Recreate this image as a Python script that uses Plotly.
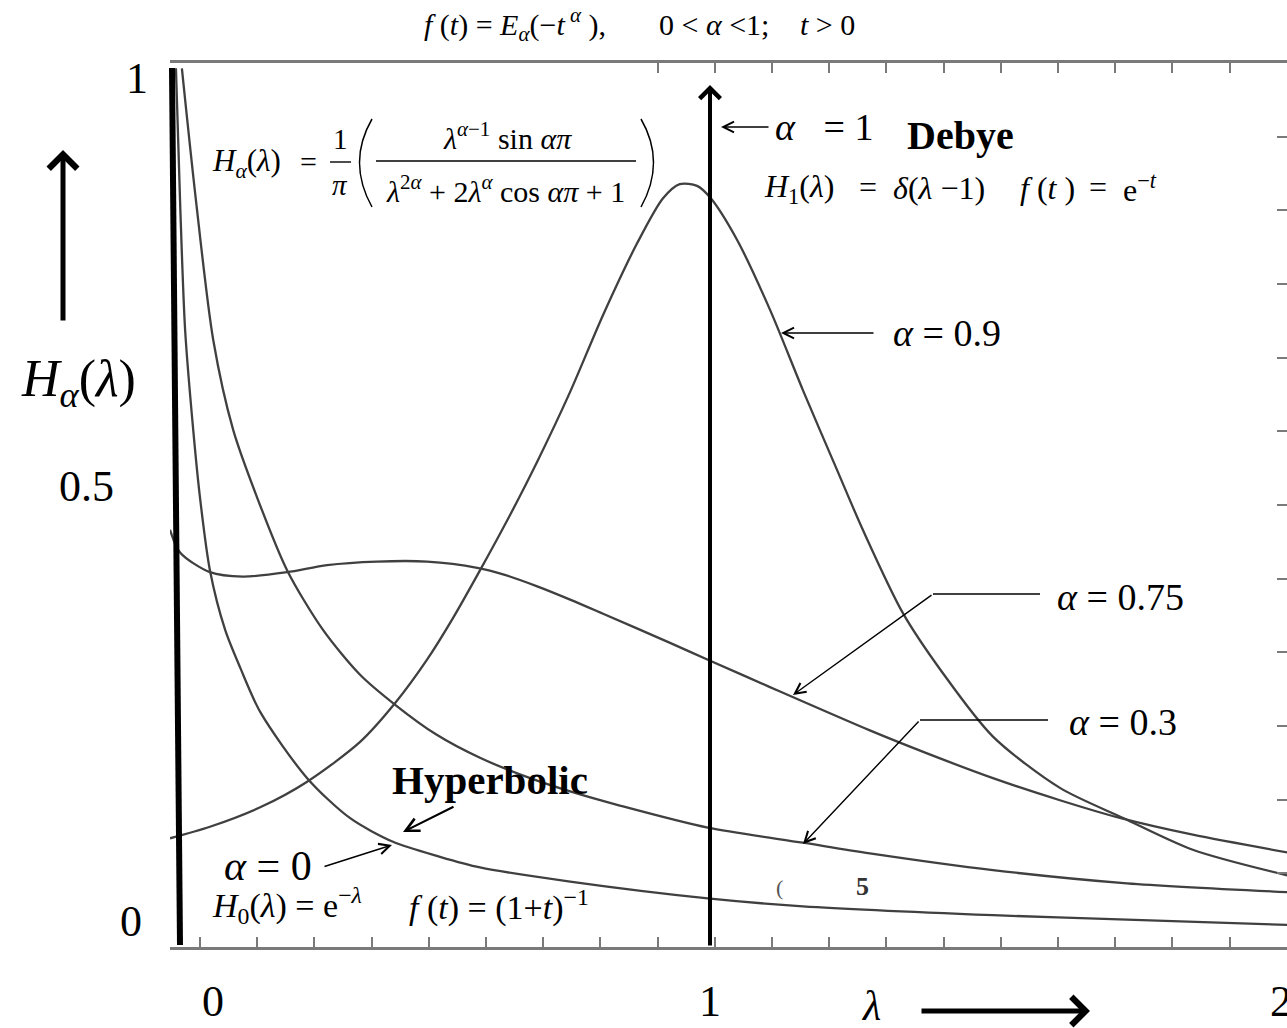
import plotly.graph_objects as go

# Spectral functions H_alpha(lambda) of the Mittag-Leffler relaxation f(t) = E_alpha(-t^alpha)
lam_a0 = [0.011, 0.019, 0.028, 0.043, 0.056, 0.074, 0.102, 0.130, 0.167, 0.254, 0.333, 0.413,
          0.500, 0.574, 0.741, 0.996, 1.172, 1.524, 1.772, 2.069]
h_a0 = [0.994, 0.837, 0.698, 0.585, 0.506, 0.426, 0.359, 0.316, 0.266, 0.191, 0.146, 0.119,
        0.102, 0.090, 0.074, 0.055, 0.046, 0.036, 0.031, 0.025]

lam_a03 = [0.022, 0.048, 0.080, 0.117, 0.161, 0.217, 0.283, 0.352, 0.417, 0.494, 0.574, 0.667,
           0.741, 0.833, 0.996, 1.172, 1.296, 1.524, 1.772, 2.069]
h_a03 = [0.994, 0.845, 0.687, 0.585, 0.509, 0.426, 0.359, 0.308, 0.274, 0.240, 0.214, 0.191,
         0.176, 0.160, 0.135, 0.118, 0.106, 0.087, 0.072, 0.062]

lam_a075 = [0.000, 0.019, 0.074, 0.135, 0.217, 0.291, 0.383, 0.476, 0.569, 0.620, 0.680, 0.741,
            0.802, 0.926, 0.996, 1.111, 1.296, 1.402, 1.524, 1.648, 1.759, 1.894, 2.069]
h_a075 = [0.472, 0.446, 0.424, 0.419, 0.424, 0.432, 0.436, 0.436, 0.429, 0.421, 0.408, 0.393,
          0.377, 0.344, 0.325, 0.294, 0.245, 0.219, 0.191, 0.166, 0.146, 0.127, 0.107]

lam_a09 = [0.000, 0.074, 0.167, 0.254, 0.352, 0.417, 0.476, 0.524, 0.574, 0.630, 0.680, 0.741,
           0.802, 0.865, 0.913, 0.944, 0.976, 1.000, 1.050, 1.111, 1.172, 1.235, 1.283, 1.357,
           1.431, 1.524, 1.648, 1.765, 1.894, 2.069]
h_a09 = [0.123, 0.136, 0.158, 0.187, 0.232, 0.276, 0.325, 0.372, 0.426, 0.489, 0.549, 0.628,
         0.715, 0.796, 0.847, 0.863, 0.861, 0.848, 0.800, 0.721, 0.630, 0.540, 0.472, 0.378,
         0.310, 0.238, 0.180, 0.146, 0.110, 0.081]

# Debye limit (alpha = 1): delta peak at lambda = 1
DEBYE_LAMBDA = 1.0

# hand-set axis labels
y_label_text = ["0", "0.5", "1"]
x_label_text = ["0", "1", "2"]

# ---- page geometry (pixels) ----
W, H = 1287, 1028
LEFT, TOP, BOTTOM = 170, 63, 947
PX_PER_LAM = 540.0
PLOT_W = W - LEFT
PLOT_H = float(BOTTOM - TOP)
X_MAX = PLOT_W / PX_PER_LAM

FRAME = "#7a7a7a"
CURVE = "#404040"
SERIF = "Liberation Serif"
NB = "\u00a0"


def px_x(px):
    return (px - LEFT) / PX_PER_LAM


def px_y(py):
    return (BOTTOM - py) / PLOT_H


def paper_x(px):
    return (px - LEFT) / PLOT_W


def paper_y(py):
    return (BOTTOM - py) / PLOT_H


fig = go.Figure()
for lam, h in [(lam_a0, h_a0), (lam_a03, h_a03), (lam_a075, h_a075), (lam_a09, h_a09)]:
    fig.add_trace(go.Scatter(x=lam, y=h, mode="lines",
                             line=dict(color=CURVE, width=2.3, shape="spline", smoothing=0.8),
                             hoverinfo="skip", showlegend=False))
# carrier for the top / right frame axes
fig.add_trace(go.Scatter(x=[None], y=[None], xaxis="x2", yaxis="y2",
                         hoverinfo="skip", showlegend=False))

tick0 = px_x(200)
dtick = 57.2 / PX_PER_LAM
top_ticks = [tick0 + k * dtick for k in range(8, 19)]
right_ticks = [k / 12 for k in range(1, 12)]

ann = []


def text(px, py, s, size, anchor="left", color="black"):
    ann.append(dict(x=paper_x(px), y=paper_y(py), xref="paper", yref="paper", text=s,
                    showarrow=False, xanchor=anchor, yanchor="middle",
                    font=dict(family=SERIF, size=size, color=color)))


def arrow(tip, tail, width=1.4, head=5, size=1.5, color="black"):
    ann.append(dict(x=paper_x(tip[0]), y=paper_y(tip[1]), xref="paper", yref="paper",
                    ax=tail[0] - tip[0], ay=tail[1] - tip[1], axref="pixel", ayref="pixel",
                    text="", showarrow=True, arrowhead=head, arrowsize=size,
                    arrowwidth=width, arrowcolor=color))


shapes = []


def seg(p0, p1, width=1.4, color="black"):
    shapes.append(dict(type="line", xref="paper", yref="paper",
                       x0=paper_x(p0[0]), y0=paper_y(p0[1]), x1=paper_x(p1[0]), y1=paper_y(p1[1]),
                       line=dict(color=color, width=width)))


def arc(points, width=1.5):
    (x0, y0), (cx, cy), (x1, y1) = [(paper_x(a), paper_y(b)) for a, b in points]
    shapes.append(dict(type="path", xref="paper", yref="paper",
                       path=f"M {x0},{y0} Q {cx},{cy} {x1},{y1}",
                       line=dict(color="black", width=width)))


# title formula
text(422, 25, f"<i>f</i>{NB}(<i>t</i>){NB}={NB}<i>E</i><sub><i>α</i></sub>(−<i>t</i><sup>{NB}<i>α</i></sup>{NB}),", 30)
text(657, 25, f"0{NB}&lt;{NB}<i>α</i>{NB}&lt;1;", 30)
text(798, 25, f"<i>t</i>{NB}&gt;{NB}0", 30)

# axis value labels
text(137, 78, y_label_text[2], 44, "center")
text(86, 487, y_label_text[1], 44, "center")
text(131, 921, y_label_text[0], 44, "center")
text(213, 1001, x_label_text[0], 44, "center")
ann.append(dict(x=DEBYE_LAMBDA, y=paper_y(1001), xref="x", yref="paper", text=x_label_text[1],
                showarrow=False, xanchor="center", yanchor="middle",
                font=dict(family=SERIF, size=44, color="black")))
text(1268, 1001, x_label_text[2], 44, "left")

# axis titles with arrows
text(78, 382, "<i>H</i><sub><i>α</i></sub>(<i>λ</i>)", 52, "center")
arrow((63, 150), (63, 322), width=5, head=4, size=1.1)
text(871, 1006, "<i>λ</i>", 42, "center")
arrow((1090, 1011), (920, 1011), width=5, head=4, size=1.1)

# Debye delta line at lambda = 1
ann.append(dict(x=DEBYE_LAMBDA, y=px_y(85), xref="x", yref="y",
                ax=0, ay=BOTTOM - 85, axref="pixel", ayref="pixel", text="", showarrow=True,
                arrowhead=4, arrowsize=1.0, arrowwidth=4, arrowcolor="black"))

# thick lambda = 0 marker on the left
seg((172, 68), (180, 945), width=6)

# general formula H_alpha(lambda)
text(210, 163, "<i>H</i><sub><i>α</i></sub>(<i>λ</i>)", 31, "left")
text(308, 161, "=", 30, "center")
text(340, 139, "1", 29, "center")
text(340, 185, "<i>π</i>", 29, "center")
seg((330, 162), (351, 162), width=1.4)
arc([(372, 119), (347, 162), (372, 207)])
text(507, 136, f"<i>λ</i><sup><i>α</i>−1</sup>{NB}sin{NB}<i>απ</i>", 30, "center")
seg((376, 161), (636, 161), width=1.4)
text(505, 189, f"<i>λ</i><sup>2<i>α</i></sup>{NB}+{NB}2<i>λ</i><sup><i>α</i></sup>{NB}cos{NB}<i>απ</i>{NB}+{NB}1",
     30, "center")
arc([(641, 119), (666, 162), (641, 207)])

# Debye annotation
arrow((721, 127), (770, 127))
text(773, 127, f"<i>α</i>{NB*3}={NB}1", 38, "left")
text(905, 135, "<b>Debye</b>", 40, "left")
text(762, 188, "<i>H</i><sub>1</sub>(<i>λ</i>)", 32, "left")
text(868, 187, "=", 32, "center")
text(891, 188, f"<i>δ</i>(<i>λ</i>{NB}−1)", 32, "left")
text(1018, 188, f"<i>f</i>{NB}(<i>t</i>{NB})", 32, "left")
text(1098, 187, "=", 32, "center")
text(1121, 188, "e<sup>−<i>t</i></sup>", 32, "left")

# alpha = 0.9
arrow((781, 333), (875, 333))
text(891, 333, f"<i>α</i>{NB}={NB}0.9", 38, "left")

# alpha = 0.75
seg((933, 594), (1040, 594))
arrow((793, 695), (933, 594))
text(1055, 597, f"<i>α</i>{NB}={NB}0.75", 38, "left")

# alpha = 0.3
seg((920, 720), (1048, 720))
arrow((803, 844), (920, 720))
text(1067, 722, f"<i>α</i>{NB}={NB}0.3", 38, "left")

# hyperbolic limit alpha = 0
text(390, 780, "<b>Hyperbolic</b>", 41, "left")
arrow((403, 832), (455, 806), width=2.2, head=5, size=1.2)
text(222, 866, f"<i>α</i>{NB}={NB}0", 42, "left")
arrow((392, 845), (323, 867))
text(210, 905, f"<i>H</i><sub>0</sub>(<i>λ</i>){NB}={NB}e<sup>−<i>λ</i></sup>", 34, "left")
text(407, 905, f"<i>f</i>{NB}(<i>t</i>){NB}={NB}(1+<i>t</i>)<sup>−1</sup>", 34, "left")

# residual print marks near the baseline
text(779, 887, "(", 22, "center", "#555555")
text(862, 886, "<b>5</b>", 26, "center", "#333333")

axis_common = dict(showgrid=False, zeroline=False, showticklabels=False, fixedrange=True)
fig.update_layout(
    width=W, height=H,
    margin=dict(l=LEFT, r=0, t=TOP, b=H - BOTTOM, pad=0),
    paper_bgcolor="white", plot_bgcolor="white",
    xaxis=dict(range=[0, X_MAX], showline=True, linecolor=FRAME, linewidth=3,
               ticks="inside", ticklen=10, tickwidth=2, tickcolor=FRAME,
               tick0=tick0, dtick=dtick, **axis_common),
    xaxis2=dict(range=[0, X_MAX], overlaying="x", side="top", anchor="y",
                showline=True, linecolor=FRAME, linewidth=3,
                ticks="inside", ticklen=10, tickwidth=2, tickcolor=FRAME,
                tickmode="array", tickvals=top_ticks, **axis_common),
    yaxis=dict(range=[0, 1], showline=False, ticks="", **axis_common),
    yaxis2=dict(range=[0, 1], overlaying="y", side="right", anchor="x",
                showline=True, linecolor=FRAME, linewidth=3,
                ticks="inside", ticklen=10, tickwidth=2, tickcolor=FRAME,
                tickmode="array", tickvals=right_ticks, **axis_common),
    annotations=ann,
    shapes=shapes,
    showlegend=False,
)

fig.write_html("out.html")
